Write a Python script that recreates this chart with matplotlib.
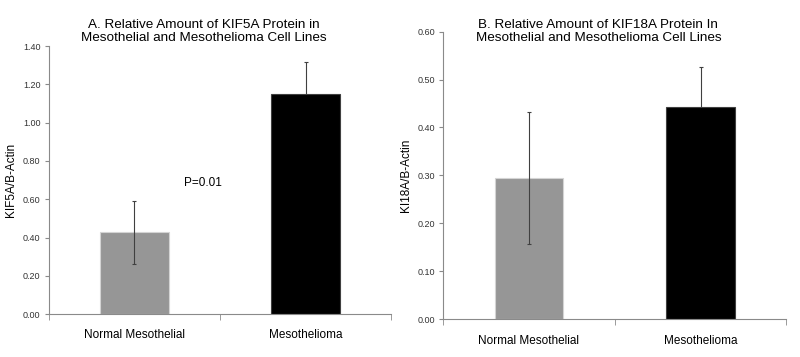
import matplotlib
matplotlib.use("Agg")
import matplotlib.pyplot as plt
from matplotlib.ticker import FixedLocator, FormatStrFormatter

plt.rcParams['font.family'] = ['Liberation Sans', 'DejaVu Sans']

categorias = ["Normal Mesothelial", "Mesothelioma"]

kif5a = [0.427, 1.148]
kif5a_err = [0.165, 0.167]

kif18a = [0.294, 0.443]
kif18a_err = [0.138, 0.083]

colores = ["#969696", "#000000"]
bordes = ["#d4d4d4", "#404040"]
gris_eje = "#8a8a8a"


def dibujar_panel(ax, valores, errores, etiqueta_y, ymax, paso):
    x = list(range(len(categorias)))
    ax.bar(x, valores, width=0.4, color=colores, edgecolor=bordes,
           linewidth=0.8, zorder=2)
    # la barra gris deja ver el error por encima; la negra lo tapa
    for i in x:
        ax.errorbar(i, valores[i], yerr=errores[i], fmt="none", ecolor="#404040",
                    elinewidth=0.8, capsize=1.5, capthick=0.8,
                    zorder=3 if i == 0 else 1)
    ax.set_xlim(-0.5, 1.5)
    ax.set_ylim(0, ymax)
    ax.set_yticks([i * paso for i in range(int(round(ymax / paso)) + 1)])
    ax.yaxis.set_major_formatter(FormatStrFormatter("%.2f"))
    ax.set_xticks(x)
    ax.set_xticklabels(categorias, fontsize=8.5)
    ax.xaxis.set_minor_locator(FixedLocator([-0.5, 0.5, 1.5]))
    ax.tick_params(axis="x", which="major", length=0, pad=11)
    ax.tick_params(axis="x", which="minor", length=4, color=gris_eje)
    ax.tick_params(axis="y", labelsize=6.5, length=3, color=gris_eje, pad=3,
                   labelcolor="#333333")
    for lado in ["top", "right"]:
        ax.spines[lado].set_visible(False)
    for lado in ["left", "bottom"]:
        ax.spines[lado].set_color(gris_eje)
        ax.spines[lado].set_linewidth(0.8)
    ax.set_ylabel(etiqueta_y, fontsize=8.5, labelpad=4)


fig = plt.figure(figsize=(8, 3.57), dpi=100)

ax1 = fig.add_axes([0.061, 0.120, 0.428, 0.751])
dibujar_panel(ax1, kif5a, kif5a_err, "KIF5A/B-Actin", 1.40, 0.20)
ax1.text(0.40, 0.684, "P=0.01", fontsize=8.5, ha="center", va="center")
fig.text(0.255, 0.912, "A. Relative Amount of KIF5A Protein in\n"
         "Mesothelial and Mesothelioma Cell Lines",
         ha="center", va="center", fontsize=9.7, linespacing=1.2)

ax2 = fig.add_axes([0.554, 0.1056, 0.429, 0.806])
dibujar_panel(ax2, kif18a, kif18a_err, "KI18A/B-Actin", 0.60, 0.10)
fig.text(0.748, 0.912, "B. Relative Amount of KIF18A Protein In\n"
         "Mesothelial and Mesothelioma Cell Lines",
         ha="center", va="center", fontsize=9.7, linespacing=1.2)

fig.savefig("out.png", dpi=100)
